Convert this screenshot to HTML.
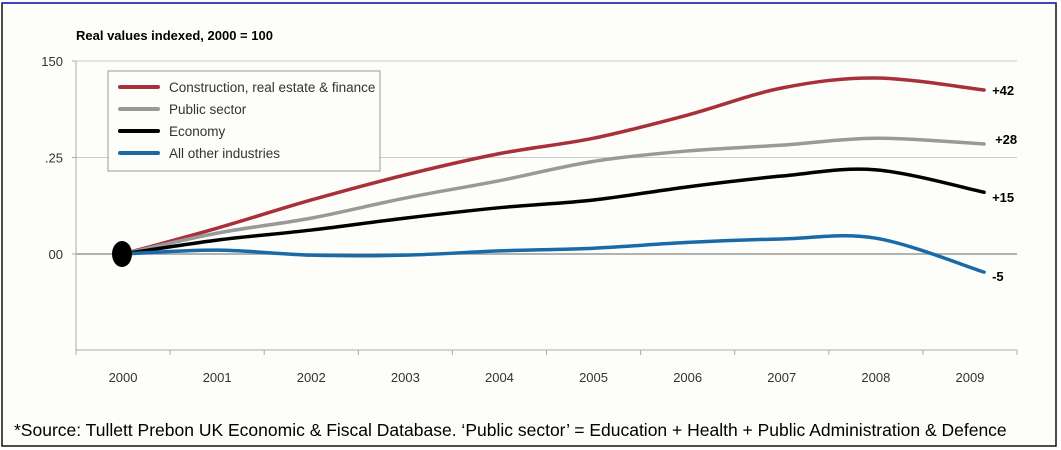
<!DOCTYPE html>
<html><head><meta charset="utf-8"><style>
body{margin:0;background:#fff}
svg{display:block;font-family:"Liberation Sans",sans-serif}
</style></head><body>
<svg width="1061" height="450" viewBox="0 0 1061 450">
<rect x="2" y="3" width="1054" height="443" fill="#fdfdf9" stroke="#111" stroke-width="1.5"/>
<line x1="2" y1="3" x2="1056" y2="3" stroke="#2233cc" stroke-width="1.5"/>
<text x="76" y="40" font-size="13" font-weight="bold">Real values indexed, 2000 = 100</text>
<g id="grid"></g>
<g id="yticks"></g>
<g id="xticks"></g>
<g id="series"></g>
<ellipse cx="122" cy="254" rx="10" ry="13" fill="#000"/>
<g>
<rect x="108" y="71" width="272" height="100" fill="#fdfdf9" stroke="#999" stroke-width="1"/>
<g font-size="13.5" fill="#333">
<line x1="120" y1="87" x2="158" y2="87" stroke="#a8303a" stroke-width="4" stroke-linecap="round"/><text x="169" y="92">Construction, real estate &amp; finance</text>
<line x1="120" y1="109" x2="158" y2="109" stroke="#999" stroke-width="4" stroke-linecap="round"/><text x="169" y="114">Public sector</text>
<line x1="120" y1="131" x2="158" y2="131" stroke="#000" stroke-width="4" stroke-linecap="round"/><text x="169" y="136">Economy</text>
<line x1="120" y1="153" x2="158" y2="153" stroke="#1a6aa8" stroke-width="4" stroke-linecap="round"/><text x="169" y="158">All other industries</text>
</g></g>
<g id="endlabels" font-size="13" font-weight="bold"></g>
<text x="14" y="436" font-size="17.5" fill="#000">*Source: Tullett Prebon UK Economic &amp; Fiscal Database. ‘Public sector’ = Education + Health + Public Administration &amp; Defence</text>
</svg>
<script>
const years=["2000","2001","2002","2003","2004","2005","2006","2007","2008","2009"];
const tPoints=[0,1,2,3,4,5,6,7,8,9.15];
const construction=[100,106.7,114,120.5,126,130,136,143,145.6,142.5];
const publicSector=[100,105.4,109.3,114.5,119,124,126.7,128.2,130,128.5];
const economy=[100,103.6,106.2,109.3,112,114,117.4,120.2,121.8,116];
const others=[100,101,99.7,99.7,100.8,101.5,103,103.9,104.1,95.3];
const endLabels=["+42","+28","+15","-5"];
const yTicks=[150,125,100];
const yTickText=["150",".25","00"];
const NS="http://www.w3.org/2000/svg";
const X0=76,CW=94.1,yScale=v=>254-(v-100)*3.86;
const xScale=t=>X0+CW/2+t*CW;
function mk(tag,attrs,parent,text){const e=document.createElementNS(NS,tag);for(const k in attrs)e.setAttribute(k,attrs[k]);if(text!==undefined)e.textContent=text;parent.appendChild(e);return e;}
const grid=document.getElementById('grid'),yt=document.getElementById('yticks'),xt=document.getElementById('xticks');
yTicks.forEach((v,i)=>{
 const l=mk('line',{x1:X0,x2:1017,y1:yScale(v),y2:yScale(v),stroke:v===100?'#999':'#ccc','stroke-width':v===100?1.5:1},grid);
 
 
 const t=mk('text',{x:63,y:yScale(v)+5,'text-anchor':'end','font-size':13,fill:'#333'},yt,yTickText[i]);
 
 
 mk('line',{x1:X0-4,x2:X0,y1:yScale(v),y2:yScale(v),stroke:'#aaa'},yt);
});
mk('line',{x1:X0,x2:X0,y1:61,y2:350,stroke:'#aaa'},yt);
mk('line',{x1:X0,x2:1017,y1:350,y2:350,stroke:'#aaa'},xt);
for(let i=0;i<=years.length;i++)mk('line',{x1:X0+i*CW,x2:X0+i*CW,y1:350,y2:355,stroke:'#aaa'},xt);
years.forEach((y,i)=>{const t=mk('text',{x:xScale(i),y:382,'text-anchor':'middle','font-size':13,fill:'#333'},xt,y);
 
 });
function path(vals){
 const p=vals.map((v,i)=>[xScale(tPoints[i]),yScale(v)]);
 let d='M'+p[0][0]+','+p[0][1];
 for(let i=0;i<p.length-1;i++){
  const p0=p[Math.max(i-1,0)],p1=p[i],p2=p[i+1],p3=p[Math.min(i+2,p.length-1)];
  const c1=[p1[0]+(p2[0]-p0[0])/6,p1[1]+(p2[1]-p0[1])/6],c2=[p2[0]-(p3[0]-p1[0])/6,p2[1]-(p3[1]-p1[1])/6];
  d+=` C${c1[0]},${c1[1]} ${c2[0]},${c2[1]} ${p2[0]},${p2[1]}`;
 }return d;}
const sg=document.getElementById('series'),el=document.getElementById('endlabels');
const defs=[[construction,'#a8303a','line-construction'],[publicSector,'#999','line-public-sector'],[economy,'#000','line-economy'],[others,'#1a6aa8','line-other-industries']];
const offs=[[8,0],[11,-5],[8,5],[8,4]];
defs.forEach((s,i)=>{
 const e=mk('path',{d:path(s[0]),fill:'none',stroke:s[1],'stroke-width':3.5,'stroke-linecap':'round'},sg);
 
 
 const last=s[0][s[0].length-1];
 const t=mk('text',{x:xScale(tPoints[tPoints.length-1])+offs[i][0],y:yScale(last)+5+offs[i][1],fill:'#000'},el,endLabels[i]);
 
 
});
</script>
</body></html>
